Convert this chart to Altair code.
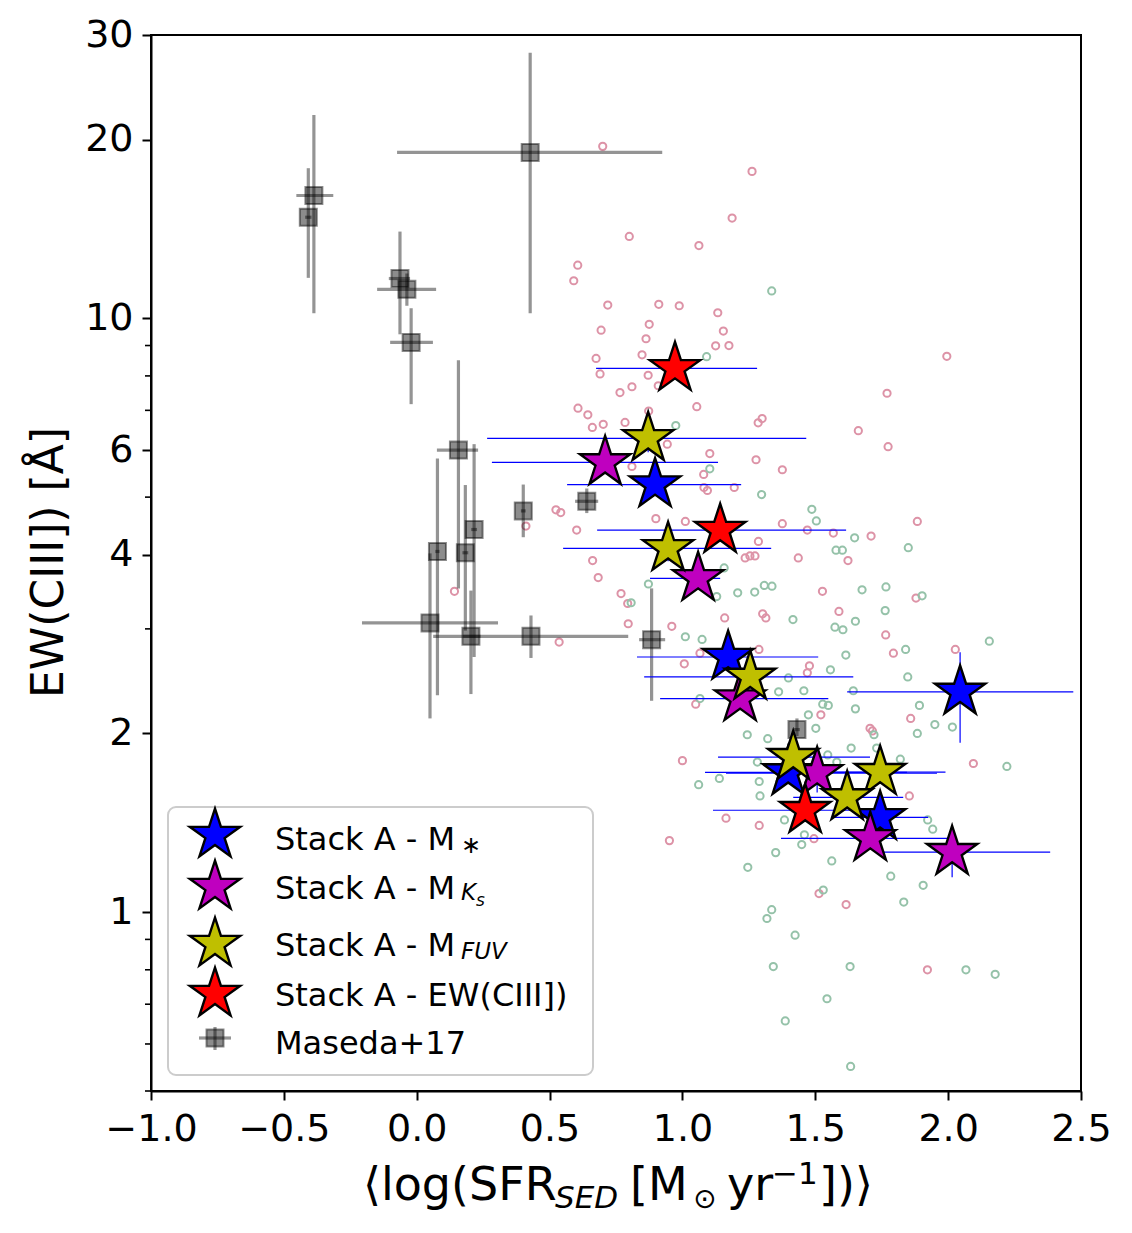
import altair as alt
import pandas as pd

# ---------------- data ----------------
# background sample (pink)
pink_x = [0.700, 1.262, 1.187, 0.800, 1.062, 0.606, 0.591, 0.719, 0.911, 0.988, 1.133, 0.875, 0.694, 1.154,
          0.863, 1.125, 1.175, 0.675, 0.848, 1.995, 0.690, 0.871, 0.810, 0.765, 0.909, 1.770, 0.607, 0.644,
          1.054, 0.661, 0.702, 0.784, 0.873, 1.300, 1.285, 1.662, 0.943, 1.774, 1.103, 1.277, 1.376, 0.810,
          1.080, 0.524, 0.542, 0.411, 0.602, 0.900, 0.662, 0.683, 0.142, 0.769, 0.794, 0.796, 0.960, 0.536,
          1.081, 1.094, 1.195, 1.011, 1.376, 1.470, 1.568, 1.710, 1.884, 1.286, 1.236, 1.254, 1.273, 1.436,
          1.623, 1.527, 1.879, 1.159, 1.302, 1.314, 1.589, 1.765, 1.794, 2.027, 1.288, 1.066, 1.007, 1.478,
          1.470, 1.050, 1.521, 1.859, 1.706, 1.715, 1.000, 2.095, 1.854, 1.164, 1.289, 0.951, 1.495, 1.514,
          1.616, 1.922]
pink_y = [19.48, 17.68, 14.75, 13.74, 13.26, 12.29, 11.57, 10.53, 10.56, 10.50, 10.22, 9.77, 9.55, 9.52,
          9.24, 8.99, 9.00, 8.56, 8.68, 8.63, 8.06, 8.02, 7.67, 7.50, 7.70, 7.48, 7.06, 6.88,
          7.10, 6.55, 6.63, 6.68, 6.98, 6.78, 6.67, 6.47, 6.14, 6.08, 5.92, 5.78, 5.56, 5.63,
          5.46, 4.76, 4.71, 4.47, 4.40, 4.60, 3.91, 3.66, 3.47, 3.44, 3.31, 3.06, 3.03, 2.85,
          5.19, 5.13, 5.19, 4.55, 4.51, 4.40, 4.35, 4.30, 4.55, 4.21, 3.95, 3.98, 3.98, 3.95,
          3.91, 3.47, 3.38, 3.13, 3.18, 3.13, 3.21, 2.93, 2.73, 2.77, 2.77, 2.73, 2.62, 2.60,
          2.53, 2.24, 2.15, 2.12, 2.04, 2.02, 1.80, 1.78, 1.57, 1.44, 1.40, 1.32, 1.33, 1.075,
          1.03, 0.80]

# background sample (green)
green_x = [1.336, 1.091, 0.975, 1.103, 0.872, 0.807, 1.298, 1.487, 1.504, 1.648, 1.578, 1.602, 1.850, 1.157,
           1.308, 1.337, 1.208, 1.272, 1.129, 1.676, 1.766, 1.902, 1.416, 1.651, 1.574, 1.604, 1.763, 1.011,
           1.074, 1.615, 1.840, 2.155, 1.557, 1.399, 1.848, 1.457, 1.362, 1.643, 1.066, 1.528, 1.549, 1.651,
           1.892, 1.474, 1.502, 1.244, 1.321, 1.950, 2.016, 1.884, 1.721, 1.731, 1.635, 1.820, 2.221, 1.282,
           1.139, 1.061, 1.289, 1.292, 1.384, 1.459, 1.449, 1.351, 1.246, 1.562, 1.923, 1.942, 1.784, 1.906,
           1.530, 1.833, 1.336, 1.318, 1.424, 1.342, 1.631, 2.067, 2.177, 1.544, 1.387, 1.633, 1.547, 1.581]
green_y = [11.12, 8.62, 6.60, 5.58, 3.57, 3.32, 5.05, 4.77, 4.56, 4.27, 4.07, 4.07, 4.11, 3.80,
           3.55, 3.54, 3.45, 3.46, 3.40, 3.49, 3.53, 3.41, 3.11, 3.09, 3.02, 2.99, 3.22, 2.91,
           2.88, 2.71, 2.77, 2.86, 2.56, 2.48, 2.49, 2.36, 2.35, 2.36, 2.29, 2.24, 2.23, 2.20,
           2.23, 2.15, 2.04, 1.99, 1.96, 2.07, 2.05, 2.00, 1.99, 1.89, 1.89, 1.81, 1.76, 1.79,
           1.68, 1.64, 1.66, 1.57, 1.43, 1.35, 1.30, 1.26, 1.19, 1.22, 1.43, 1.38, 1.15, 1.11,
           1.09, 1.04, 1.01, 0.976, 0.915, 0.81, 0.81, 0.80, 0.786, 0.715, 0.656, 0.55, 1.84, 1.79]

# Maseda+17
mas_x = [-0.387, -0.408, -0.063, -0.037, -0.021, 0.427, 0.157, 0.216, 0.078, 0.183, 0.050, 0.204, 0.430,
         0.401, 0.640, 0.884, 1.431]
mas_y = [16.1, 14.8, 11.67, 11.19, 9.11, 19.03, 6.00, 4.41, 4.05, 4.03, 3.07, 2.915, 2.915,
         4.74, 4.92, 2.877, 2.03]
mas_xlo = [-0.453, -0.420, -0.105, -0.149, -0.100, -0.074, 0.076, 0.205, 0.070, 0.172, -0.206, 0.175, 0.062,
           0.392, 0.596, 0.837, 1.420]
mas_xhi = [-0.314, -0.396, -0.025, 0.073, 0.061, 0.924, 0.231, 0.227, 0.086, 0.194, 0.306, 0.240, 0.796,
           0.410, 0.683, 0.935, 1.442]
mas_ylo = [10.2, 11.7, 9.4, 10.5, 7.17, 10.2, 3.51, 2.69, 2.32, 2.98, 2.12, 2.33, 2.68,
           4.28, 4.70, 2.27, 1.98]
mas_yhi = [22.0, 17.9, 14.0, 11.9, 10.4, 28.0, 8.50, 6.14, 5.81, 5.24, 4.02, 3.48, 3.16,
           5.25, 5.17, 3.51, 2.12]

# Stack A - M*
blue_x = [0.897, 1.172, 2.045, 1.398, 1.744]
blue_y = [5.25, 2.69, 2.35, 1.72, 1.445]
blue_xlo = [0.566, 0.829, 1.620, 1.085, 1.567]
blue_xhi = [1.221, 1.511, 2.471, 1.845, 1.925]
blue_ylo = [5.02, 2.58, 1.93, 1.66, 1.40]
blue_yhi = [5.50, 2.80, 2.74, 1.79, 1.49]

# Stack A - M_Ks
mag_x = [0.709, 1.059, 1.217, 1.507, 1.707, 2.015]
mag_y = [5.72, 3.65, 2.29, 1.714, 1.332, 1.262]
mag_xlo = [0.283, 0.878, 0.916, 1.164, 1.371, 1.755]
mag_xhi = [1.134, 1.142, 1.549, 1.958, 2.007, 2.384]
mag_ylo = [5.50, 3.52, 2.20, 1.59, 1.29, 1.145]
mag_yhi = [5.95, 3.78, 2.38, 1.84, 1.37, 1.39]

# Stack A - M_FUV
yel_x = [0.871, 0.946, 1.255, 1.417, 1.744, 1.620]
yel_y = [6.28, 4.10, 2.49, 1.824, 1.721, 1.561]
yel_xlo = [0.265, 0.551, 0.856, 1.134, 1.400, 1.417]
yel_xhi = [1.466, 1.334, 1.643, 1.706, 1.990, 1.831]
yel_ylo = [5.95, 3.90, 2.40, 1.76, 1.66, 1.51]
yel_yhi = [6.60, 4.30, 2.58, 1.89, 1.78, 1.61]

# Stack A - EW(CIII])
red_x = [0.972, 1.142, 1.462]
red_y = [8.24, 4.40, 1.485]
red_xlo = [0.675, 0.679, 1.115]
red_xhi = [1.281, 1.616, 1.800]
red_ylo = [7.95, 4.25, 1.44]
red_yhi = [8.55, 4.56, 1.53]

x_ticks = [-1.0, -0.5, 0.0, 0.5, 1.0, 1.5, 2.0, 2.5]
y_ticks = [1, 2, 4, 6, 10, 20, 30]
y_minor = [0.5, 0.6, 0.7, 0.8, 0.9, 3, 5, 7, 8, 9]

# ---------------- chart ----------------
FONT = "DejaVu Sans"
STAR = ("M0,-1L0.2245,-0.309L0.9511,-0.309L0.3633,0.118L0.5878,0.809L0,0.382"
        "L-0.5878,0.809L-0.3633,0.118L-0.9511,-0.309L-0.2245,-0.309Z")

xs = alt.Scale(domain=[-1, 2.5], nice=False, zero=False)
ys = alt.Scale(type="log", domain=[0.5, 30], nice=False)

xaxis = alt.Axis(values=x_ticks, format=".1f", title=None, grid=False,
                 labelFont=FONT, labelFontSize=38, labelColor="black", labelPadding=10,
                 labelFlush=False, labelOverlap=False,
                 tickSize=9, tickWidth=2, tickColor="black",
                 domainColor="black", domainWidth=2)
yaxis = alt.Axis(values=y_ticks, format="d", grid=False,
                 labelFont=FONT, labelFontSize=38, labelColor="black", labelPadding=9,
                 labelFlush=False, labelOverlap=False,
                 tickSize=9, tickWidth=2, tickColor="black",
                 domainColor="black", domainWidth=2,
                 title="EW(CIII]) [Å]", titleFont=FONT, titleFontSize=44, titleFontWeight="normal",
                 titleColor="black", titleAngle=270, titleX=-89, titleY=527,
                 titleBaseline="alphabetic", titleAlign="center")


def X(f):
    return alt.X(f, type="quantitative", scale=xs, axis=xaxis)


def Y(f):
    return alt.Y(f, type="quantitative", scale=ys, axis=yaxis)


layers = []

# minor ticks on the y axis
df_minor = pd.DataFrame({"v": y_minor})
layers.append(alt.Chart(df_minor).mark_rule(color="black", strokeWidth=1.6).encode(
    x=alt.value(0), x2=alt.value(-6), y=Y("v")))

# background points
df_pink = pd.DataFrame({"x": pink_x, "y": pink_y})
df_green = pd.DataFrame({"x": green_x, "y": green_y})
layers.append(alt.Chart(df_pink).mark_point(shape="circle", filled=False, size=52, strokeWidth=2,
                                            color="#dd93a7", opacity=1).encode(x=X("x"), y=Y("y")))
layers.append(alt.Chart(df_green).mark_point(shape="circle", filled=False, size=52, strokeWidth=2,
                                             color="#95c2a9", opacity=1).encode(x=X("x"), y=Y("y")))

# Maseda+17
df_mas = pd.DataFrame({"x": mas_x, "y": mas_y, "xlo": mas_xlo, "xhi": mas_xhi,
                       "ylo": mas_ylo, "yhi": mas_yhi})
layers.append(alt.Chart(df_mas).mark_rule(color="black", opacity=0.42, strokeWidth=3.2).encode(
    x=X("xlo"), x2="xhi", y=Y("y")))
layers.append(alt.Chart(df_mas).mark_rule(color="black", opacity=0.42, strokeWidth=3.2).encode(
    x=X("x"), y=Y("ylo"), y2="yhi"))
layers.append(alt.Chart(df_mas).mark_point(shape="square", filled=True, size=289, fill="black",
                                           fillOpacity=0.45, stroke="black", strokeOpacity=0.45,
                                           strokeWidth=2, opacity=1).encode(x=X("x"), y=Y("y")))

series = [
    ("#0000ff", blue_x, blue_y, blue_xlo, blue_xhi, blue_ylo, blue_yhi),
    ("#bf00bf", mag_x, mag_y, mag_xlo, mag_xhi, mag_ylo, mag_yhi),
    ("#bfbf00", yel_x, yel_y, yel_xlo, yel_xhi, yel_ylo, yel_yhi),
    ("#ff0000", red_x, red_y, red_xlo, red_xhi, red_ylo, red_yhi),
]
frames = []
for col, sx, sy, sxl, sxh, syl, syh in series:
    frames.append(pd.DataFrame({"x": sx, "y": sy, "xlo": sxl, "xhi": sxh, "ylo": syl, "yhi": syh}))

for df in frames:
    layers.append(alt.Chart(df).mark_rule(color="#0000ff", strokeWidth=1.2).encode(
        x=X("xlo"), x2="xhi", y=Y("y")))
    layers.append(alt.Chart(df).mark_rule(color="#0000ff", strokeWidth=1.2).encode(
        x=X("x"), y=Y("ylo"), y2="yhi"))
for (col, *_), df in zip(series, frames):
    layers.append(alt.Chart(df).mark_point(shape=STAR, filled=True, size=2800, fill=col,
                                           stroke="black", strokeWidth=2.4, opacity=1).encode(
        x=X("x"), y=Y("y")))

one = pd.DataFrame({"k": [0]})

# legend box
layers.append(alt.Chart(one).mark_rect(fill="white", fillOpacity=0.8, stroke="#cccccc", strokeWidth=2,
                                       cornerRadius=8).encode(
    x=alt.value(17), x2=alt.value(442), y=alt.value(772), y2=alt.value(1040)))

leg_y = [800, 852, 909, 959]
for (col, *_), yy in zip(series, leg_y):
    layers.append(alt.Chart(one).mark_point(shape=STAR, filled=True, size=2800, fill=col,
                                            stroke="black", strokeWidth=2.4, opacity=1).encode(
        x=alt.value(64), y=alt.value(yy)))
# Maseda legend symbol
layers.append(alt.Chart(one).mark_rule(color="black", opacity=0.42, strokeWidth=3.2).encode(
    x=alt.value(48), x2=alt.value(80), y=alt.value(1003)))
layers.append(alt.Chart(one).mark_rule(color="black", opacity=0.42, strokeWidth=3.2).encode(
    x=alt.value(64), y=alt.value(992), y2=alt.value(1015)))
layers.append(alt.Chart(one).mark_point(shape="square", filled=True, size=289, fill="black",
                                        fillOpacity=0.45, stroke="black", strokeOpacity=0.45,
                                        strokeWidth=2, opacity=1).encode(
    x=alt.value(64), y=alt.value(1003)))


def txt(s, x, y, size, italic=False, align="left", baseline="alphabetic"):
    kw = dict(font=FONT, fontSize=size, color="black", align=align, baseline=baseline)
    if italic:
        kw["fontStyle"] = "italic"
    return alt.Chart(one).mark_text(**kw).encode(x=alt.value(x), y=alt.value(y), text=alt.value(s))


leg_labels = ["Stack A - M", "Stack A - M", "Stack A - M", "Stack A - EW(CIII])", "Maseda+17"]
leg_base = [815, 864, 921, 971, 1019]
for s, yy in zip(leg_labels, leg_base):
    layers.append(txt(s, 124, yy, 32))
layers.append(txt("∗", 320, 811, 24, align="center", baseline="middle"))
layers.append(txt("K", 310, 865, 23, italic=True))
layers.append(txt("s", 325, 871, 17, italic=True))
layers.append(txt("FUV", 310, 924, 23, italic=True))

# x-axis title with sub/superscripts
layers.append(txt("⟨log(SFR", 212, 1165, 46))
layers.append(txt("SED", 404, 1173, 31, italic=True))
layers.append(txt("[M", 479, 1165, 46))
layers.append(txt("⊙", 542, 1173, 28))
layers.append(txt("yr", 576, 1165, 46))
layers.append(txt("−1", 621, 1149, 31))
layers.append(txt("])⟩", 668, 1165, 46))

chart = alt.layer(*layers).properties(
    width=930, height=1056,
    autosize=alt.AutoSizeParams(type="none"),
    padding={"left": 143, "top": 27, "right": 40, "bottom": 128},
    background="white",
).configure_view(stroke="black", strokeWidth=2)

chart.save("out.html", embed_options={"renderer": "svg", "actions": False})
